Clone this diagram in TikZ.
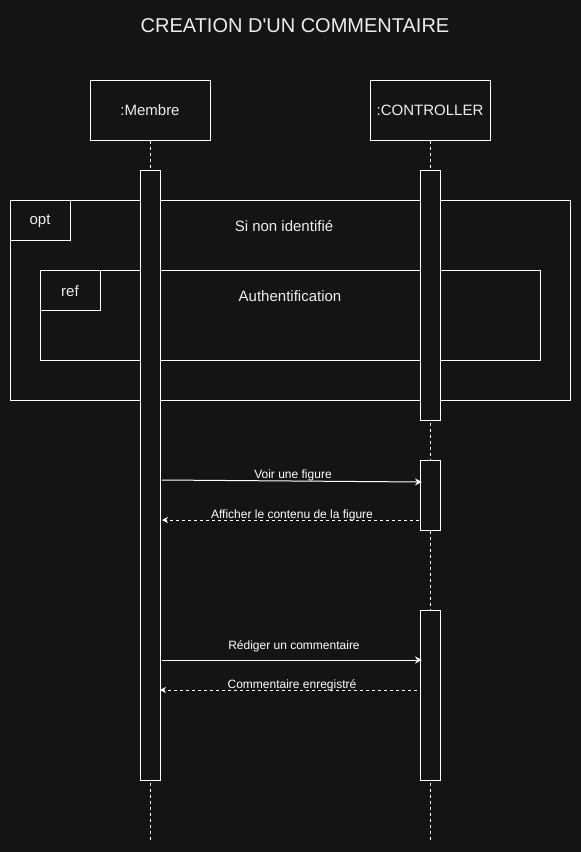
\documentclass[tikz,border=0pt]{standalone}
\usepackage{fontspec}
\setmainfont{Liberation Sans}
% plain family without TeX ligature mapping, so the apostrophe stays straight
\newfontfamily\plainsans{Liberation Sans}
\usetikzlibrary{arrows.meta}
\definecolor{bg}{HTML}{141414}
\definecolor{ink}{HTML}{EDEDED}
\begin{document}
\begin{tikzpicture}[x=1pt,y=-1pt,
  every node/.style={text=ink},
  objbox/.style={draw=white, line width=1pt, fill=bg, minimum width=120pt, minimum height=60pt,
    inner sep=0pt, font=\fontsize{15}{18}\selectfont},
  lifeline/.style={draw=white, line width=1pt, dash pattern=on 3pt off 3pt},
  actbar/.style={draw=white, line width=1pt, fill=bg, minimum width=20pt, inner sep=0pt},
  frame/.style={draw=white, line width=1pt, inner sep=0pt},
  tagbox/.style={draw=white, line width=1pt, minimum width=60pt, minimum height=40pt, inner sep=0pt},
  lbl/.style={font=\fontsize{15}{18}\selectfont, inner sep=0pt},
  msglbl/.style={font=\fontsize{12}{14}\selectfont, inner sep=0pt, text=white},
  call/.style={draw=white, line width=1pt, -{Stealth[length=7pt,width=7pt]}},
  reply/.style={draw=white, line width=1pt, dash pattern=on 3pt off 3pt, -{Stealth[length=6pt,width=6pt]}}
]
% page
\fill[bg] (0,0) rectangle (581,852);
\useasboundingbox (0,0) rectangle (581,852);

% title
\node[font=\plainsans\fontsize{20}{24}\selectfont, inner sep=0pt] (title) at (295,26) {CREATION D'UN COMMENTAIRE};

% participants
\node[objbox] (membre) at (150,110) {:Membre};
\node[objbox] (ctrl) at (430,110) {:CONTROLLER};

% lifelines
\coordinate (membreEnd) at (150,840);
\coordinate (ctrlEnd) at (430,840);
\draw[lifeline] (membre.south) -- (membreEnd);
\draw[lifeline] (ctrl.south) -- (ctrlEnd);

% opt fragment
\node[frame, minimum width=560pt, minimum height=200pt] (opt) at (290,300) {};
\node[tagbox, anchor=north west] (opttag) at (opt.north west) {};
\node[lbl] (optlbl) at (40,221) {opt};
\node[lbl] (cond) at (284,226) {Si non identifié};

% ref fragment
\node[frame, minimum width=500pt, minimum height=90pt] (ref) at (290,315) {};
\node[tagbox, anchor=north west] (reftag) at (ref.north west) {};
\node[lbl] (reflbl) at (70,291) {ref};
\node[lbl] (auth) at (290,296) {Authentification};

% activation bars
\node[actbar, minimum height=610pt] (actM) at (150,475) {};
\node[actbar, minimum height=250pt] (actC1) at (430,295) {};
\node[actbar, minimum height=70pt] (actC2) at (430,495) {};
\node[actbar, minimum height=170pt] (actC3) at (430,695) {};

% message end points
\coordinate (m1s) at (162,480);
\coordinate (m1e) at (422,482);
\coordinate (m2s) at (419,520);
\coordinate (m2e) at (162,520);
\coordinate (m3s) at (162,660);
\coordinate (m3e) at (422,660);
\coordinate (m4s) at (417,690);
\coordinate (m4e) at (160,690);

% messages
\draw[call] (m1s) -- (m1e);
\node[msglbl] (l1) at (293,475) {Voir une figure};
\draw[reply] (m2s) -- (m2e);
\node[msglbl] (l2) at (292,515) {Afficher le contenu de la figure};
\draw[call] (m3s) -- (m3e);
\node[msglbl] (l3) at (294,646) {Rédiger un commentaire};
\draw[reply] (m4s) -- (m4e);
\node[msglbl] (l4) at (292,685) {Commentaire enregistré};
\end{tikzpicture}
\end{document}
